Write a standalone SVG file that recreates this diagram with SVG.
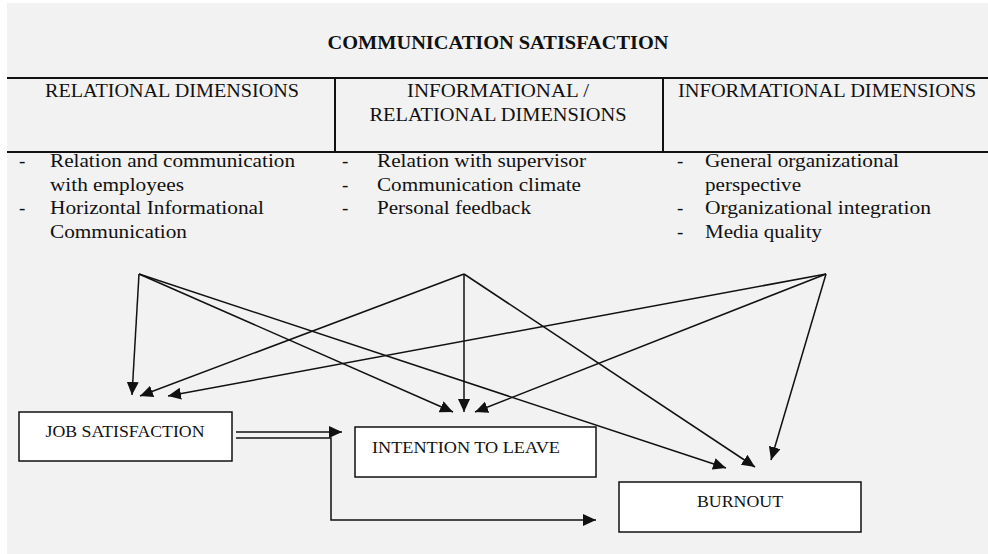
<svg xmlns="http://www.w3.org/2000/svg" width="988" height="554" viewBox="0 0 988 554">
<style>
text{font-family:"Liberation Serif","Times New Roman",serif;fill:#111}
.title{font-size:19px;font-weight:bold}
.head{font-size:19px}
.body{font-size:19px}
.box text{font-size:17px}
.box rect{fill:#fff;stroke:#111;stroke-width:1.5}
.grid{stroke:#111;stroke-width:2;fill:none}
.conn line,.conn polyline{stroke:#111;stroke-width:1.5;fill:none}
</style>
<defs>
<marker id="ah" viewBox="0 0 13 12" refX="13" refY="6" markerWidth="13" markerHeight="12" markerUnits="userSpaceOnUse" orient="auto">
<path d="M0,0 L13,6 L0,12 Z" fill="#111"/>
</marker>
</defs>
<rect x="7" y="3" width="981" height="551" fill="#f2f2f2"/>
<g id="header">
<text class="title" x="498" y="49" text-anchor="middle" textLength="341" lengthAdjust="spacingAndGlyphs">COMMUNICATION SATISFACTION</text>
<line class="grid" x1="7" y1="78" x2="988" y2="78"/>
<line class="grid" x1="7" y1="152" x2="988" y2="152"/>
<line class="grid" x1="335" y1="78" x2="335" y2="152"/>
<line class="grid" x1="663" y1="78" x2="663" y2="152"/>
<text class="head" x="45" y="97" textLength="254" lengthAdjust="spacingAndGlyphs">RELATIONAL DIMENSIONS</text>
<text class="head" x="498" y="97" text-anchor="middle" textLength="182" lengthAdjust="spacingAndGlyphs">INFORMATIONAL /</text>
<text class="head" x="498" y="121" text-anchor="middle" textLength="257" lengthAdjust="spacingAndGlyphs">RELATIONAL DIMENSIONS</text>
<text class="head" x="678" y="97" textLength="298" lengthAdjust="spacingAndGlyphs">INFORMATIONAL DIMENSIONS</text>
</g>
<g id="relational-list">
<text class="body" x="19" y="167">-</text>
<text class="body" x="50" y="167" textLength="245" lengthAdjust="spacingAndGlyphs">Relation and communication</text>
<text class="body" x="50" y="191" textLength="134" lengthAdjust="spacingAndGlyphs">with employees</text>
<text class="body" x="19" y="214">-</text>
<text class="body" x="50" y="214" textLength="214" lengthAdjust="spacingAndGlyphs">Horizontal Informational</text>
<text class="body" x="50" y="238" textLength="137" lengthAdjust="spacingAndGlyphs">Communication</text>
</g>
<g id="mixed-list">
<text class="body" x="342" y="167">-</text>
<text class="body" x="377" y="167" textLength="209" lengthAdjust="spacingAndGlyphs">Relation with supervisor</text>
<text class="body" x="342" y="191">-</text>
<text class="body" x="377" y="191" textLength="204" lengthAdjust="spacingAndGlyphs">Communication climate</text>
<text class="body" x="342" y="214">-</text>
<text class="body" x="377" y="214" textLength="154" lengthAdjust="spacingAndGlyphs">Personal feedback</text>
</g>
<g id="informational-list">
<text class="body" x="677" y="167">-</text>
<text class="body" x="705" y="167" textLength="194" lengthAdjust="spacingAndGlyphs">General organizational</text>
<text class="body" x="705" y="191" textLength="96" lengthAdjust="spacingAndGlyphs">perspective</text>
<text class="body" x="677" y="214">-</text>
<text class="body" x="705" y="214" textLength="226" lengthAdjust="spacingAndGlyphs">Organizational integration</text>
<text class="body" x="677" y="238">-</text>
<text class="body" x="705" y="238" textLength="117" lengthAdjust="spacingAndGlyphs">Media quality</text>
</g>
<g id="job-satisfaction" class="box">
<rect x="19" y="412" width="213" height="49"/>
<text x="125" y="437" text-anchor="middle" textLength="159" lengthAdjust="spacingAndGlyphs">JOB SATISFACTION</text>
</g>
<g id="intention-to-leave" class="box">
<rect x="355" y="427" width="241" height="50"/>
<text x="372" y="453" textLength="188" lengthAdjust="spacingAndGlyphs">INTENTION TO LEAVE</text>
</g>
<g id="burnout" class="box">
<rect x="619" y="482" width="242" height="50"/>
<text x="740" y="507" text-anchor="middle" textLength="86" lengthAdjust="spacingAndGlyphs">BURNOUT</text>
</g>
<g id="connectors" class="conn">
<line x1="139" y1="274" x2="132" y2="395" marker-end="url(#ah)"/>
<line x1="139" y1="274" x2="453" y2="412" marker-end="url(#ah)"/>
<line x1="139" y1="274" x2="726" y2="468" marker-end="url(#ah)"/>
<line x1="464" y1="274" x2="140" y2="396" marker-end="url(#ah)"/>
<line x1="464" y1="274" x2="464" y2="412" marker-end="url(#ah)"/>
<line x1="464" y1="274" x2="755" y2="467" marker-end="url(#ah)"/>
<line x1="826" y1="274" x2="168" y2="396" marker-end="url(#ah)"/>
<line x1="826" y1="274" x2="475" y2="412" marker-end="url(#ah)"/>
<line x1="826" y1="274" x2="771" y2="460" marker-end="url(#ah)"/>
<line x1="236" y1="432" x2="342" y2="432" marker-end="url(#ah)"/>
<polyline points="236,438 331,438 331,520 596,520" marker-end="url(#ah)"/>
</g>
</svg>
